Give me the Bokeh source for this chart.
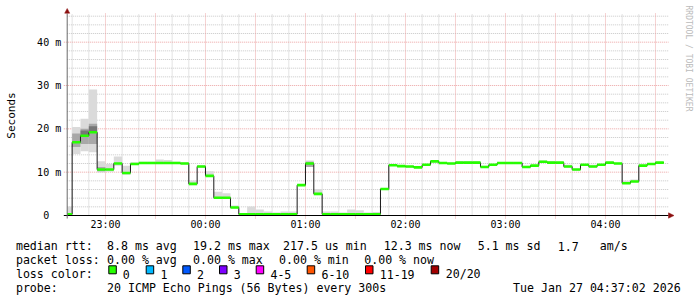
import math
import re
import pandas as pd
from bokeh.plotting import figure
from bokeh.models import Range1d, FixedTicker, DatetimeTickFormatter
from bokeh.core.properties import value
from bokeh.embed import file_html
from bokeh.resources import INLINE

# ---------------- data (milliseconds) ----------------
graph_start = "2026-01-26 22:37:02"
graph_end = "2026-01-27 04:37:02"
first_slot = "2026-01-26 22:40:00"
last_slot_end = "2026-01-27 04:35:00"

median_ms = [0.3, 16.9, 18.4, 19.2, 10.6, 10.6, 12.0, 9.8, 11.9, 12.1, 12.1, 12.1,
             12.1, 12.1, 12.0, 7.3, 11.3, 9.15, 4.1, 4.1, 1.85, 0.3, 0.3, 0.3,
             0.3, 0.3, 0.3, 0.3, 7.0, 12.0, 5.0, 0.3, 0.3, 0.3, 0.3, 0.3,
             0.3, 0.3, 6.1, 11.6, 11.4, 11.3, 11.1, 11.7, 12.5, 12.1, 12.0, 12.2,
             12.2, 12.2, 11.2, 11.7, 12.1, 12.1, 12.1, 11.2, 11.5, 12.4, 12.2, 12.2,
             11.3, 10.6, 11.7, 11.3, 11.7, 12.2, 12.0, 7.45, 7.85, 11.5, 11.9, 12.2]

smoke_lo_ms = [0.0, 14.2, 14.8, 14.6, 9.9, 10.1, 11.5, 9.4, 11.7, 11.9, 11.9, 11.9,
               11.9, 11.9, 11.8, 7.0, 11.0, 9.0, 3.9, 3.9, 1.6, 0.1, 0.1, 0.1,
               0.1, 0.1, 0.1, 0.1, 6.8, 11.2, 4.7, 0.1, 0.1, 0.1, 0.1, 0.1,
               0.1, 0.1, 5.9, 11.4, 11.2, 11.1, 10.9, 11.5, 12.3, 11.9, 11.8, 12.0,
               12.0, 12.0, 11.0, 11.5, 11.9, 11.9, 11.9, 11.0, 11.3, 12.2, 12.0, 12.0,
               11.1, 10.4, 11.5, 11.1, 11.5, 12.0, 11.8, 7.25, 7.65, 11.3, 11.7, 12.0]

smoke_hi_ms = [2.1, 20.4, 22.3, 29.1, 12.5, 11.9, 13.6, 11.5, 12.3, 12.4, 12.4, 12.9,
               12.8, 12.4, 12.3, 8.1, 11.6, 10.2, 5.5, 5.15, 2.3, 0.4, 2.1, 1.4,
               0.9, 0.7, 0.9, 0.9, 7.2, 12.7, 6.1, 0.9, 0.9, 0.7, 1.4, 1.2,
               0.7, 0.8, 6.3, 11.8, 11.6, 11.5, 11.3, 11.9, 12.7, 12.3, 12.2, 12.6,
               12.6, 12.6, 11.5, 11.9, 12.3, 12.3, 12.3, 11.5, 11.7, 12.7, 12.6, 12.4,
               11.7, 10.8, 11.9, 11.7, 11.9, 12.4, 12.2, 8.0, 8.3, 11.7, 12.1, 12.4]

core_slots = [1, 2, 3, 4, 29]
core_lo_ms = [15.8, 16.5, 16.5, 10.2, 11.2]
core_hi_ms = [18.9, 20.0, 21.2, 11.2, 12.4]
dark_slots = [2, 3]
dark_lo_ms = [18.6, 19.4]
dark_hi_ms = [19.6, 20.6]

x_tick_times = ["2026-01-26 23:00", "2026-01-27 00:00", "2026-01-27 01:00",
                "2026-01-27 02:00", "2026-01-27 03:00", "2026-01-27 04:00"]
y_tick_values = [0, 10, 20, 30, 40]
y_tick_labels = ["0\u00a0\u00a0", "10 m", "20 m", "30 m", "40 m"]
y_axis_title = "Seconds"
credit_text = "RRDTOOL / TOBI OETIKER"

legend_heads = ["median rtt:", "packet loss:", "loss color:", "probe:"]
legend_bodies = ["8.8 ms avg  19.2 ms max  217.5 us min  12.3 ms now  5.1 ms sd  1.7   am/s",
                 "0.00 % avg  0.00 % max  0.00 % min  0.00 % now",
                 "",
                 "20 ICMP Echo Pings (56 Bytes) every 300s"]
stamp_text = "Tue Jan 27 04:37:02 2026"
loss_labels = ["0", "1", "2", "3", "4-5", "6-10", "11-19", "20/20"]
loss_colors = ["#26ff00", "#00b8ff", "#0059ff", "#7e00ff", "#ff00ff", "#ff5500", "#ff0000", "#a10000"]

# ---------------- layout constants (pixels) ----------------
W, H = 697, 297
GRAPH_X0 = 66.7                # pixel of graph start (y axis)
ZERO_Y = 215.0                 # pixel of value 0 (x axis)
PX_PER_HOUR = 100.0
PX_PER_MS = 4.333
MS_PER_PX = 3.6e6 / PX_PER_HOUR
YU_PER_PX = 1.0 / PX_PER_MS
MONO = "DejaVu Sans Mono"
LEG_FONT = "11.6px"
# left pixel of each legend piece, per row (rrdtool places items with its own gaps)
PIECE_X = [[107.3, 193.3, 283.3, 384.0, 478.0, 558.0, 600.0],
           [107.3, 193.3, 279.3, 364.5],
           [],
           [107.3]]


def tms(s):
    return pd.Timestamp(s).value / 1e6


t0 = tms(graph_start)
t1 = tms(graph_end)


def px_x(px):
    return t0 + (px - GRAPH_X0) * MS_PER_PX


def px_y(py):
    return (ZERO_Y - py) * YU_PER_PX


starts = [t0] + [ts.value / 1e6 for ts in pd.date_range(first_slot, periods=len(median_ms) - 1, freq="5min")]
ends = starts[1:] + [tms(last_slot_end)]

p = figure(width=W, height=H, output_backend="svg", toolbar_location=None,
           x_axis_type="datetime",
           x_range=Range1d(px_x(0), px_x(W)),
           y_range=Range1d(px_y(H), px_y(0)),
           min_border=0)
p.outline_line_color = None
p.background_fill_color = "white"
p.border_fill_color = "white"
p.grid.visible = False

# ---------------- grid ----------------
grid_top = px_y(13)
grid_right = t1 + 1.3 * MS_PER_PX
tick_y = 3 * YU_PER_PX
tick_x = 3.4 * MS_PER_PX

minor_v = [ts.value / 1e6 for ts in pd.date_range(first_slot, "2026-01-27 04:30", freq="10min") if ts.minute % 30 != 0]
major_v = [ts.value / 1e6 for ts in pd.date_range("2026-01-26 23:00", "2026-01-27 04:30", freq="30min")]
minor_h = [v for v in range(2, 47, 2) if v % 10 != 0]
major_h = [v for v in y_tick_values if v != 0]

MINOR_C = "#c8c8c8"
MAJOR_C = "#eca4a4"
p.segment(x0=minor_v, x1=minor_v, y0=[0] * len(minor_v), y1=[grid_top] * len(minor_v),
          line_color=MINOR_C, line_width=1, line_dash="1 1")
p.segment(x0=[t0] * len(minor_h), x1=[grid_right] * len(minor_h), y0=minor_h, y1=minor_h,
          line_color=MINOR_C, line_width=1, line_dash="1 1")
p.segment(x0=major_v, x1=major_v, y0=[-tick_y] * len(major_v), y1=[grid_top] * len(major_v),
          line_color=MAJOR_C, line_width=1, line_dash="1 1")
p.segment(x0=[t0 - tick_x] * len(major_h), x1=[grid_right] * len(major_h), y0=major_h, y1=major_h,
          line_color=MAJOR_C, line_width=1, line_dash="1 1")

# ---------------- smoke ----------------
p.quad(left=starts, right=ends, bottom=smoke_lo_ms, top=smoke_hi_ms,
       fill_color="#dadada", line_color=None)
p.quad(left=[starts[i] for i in core_slots], right=[ends[i] for i in core_slots],
       bottom=core_lo_ms, top=core_hi_ms, fill_color="#a8a8a8", line_color=None)
p.quad(left=[starts[i] for i in dark_slots], right=[ends[i] for i in dark_slots],
       bottom=dark_lo_ms, top=dark_hi_ms, fill_color="#767676", line_color=None)

# ---------------- median ----------------
p.step(x=starts + [ends[-1]], y=median_ms + [median_ms[-1]], mode="after",
       line_color="#1a1a1a", line_width=1)
p.segment(x0=starts, x1=ends, y0=median_ms, y1=median_ms,
          line_color=loss_colors[0], line_width=2.6)

# ---------------- axes lines and arrows ----------------
p.segment(x0=[t0 - tick_x], x1=[grid_right], y0=[0], y1=[0], line_color="#000000", line_width=1)
p.segment(x0=[t0], x1=[t0], y0=[-tick_y], y1=[grid_top], line_color="#6a6a6a", line_width=1)
ARROW_C = "#8c1010"
p.patch(x=[t0 - 2.5 * MS_PER_PX, t0, t0 + 2.5 * MS_PER_PX],
        y=[px_y(12.7), px_y(8.0), px_y(12.7)],
        fill_color=ARROW_C, line_color=ARROW_C, line_width=0.5)
p.patch(x=[grid_right, grid_right + 5.5 * MS_PER_PX, grid_right],
        y=[2.7 * YU_PER_PX, 0, -2.7 * YU_PER_PX],
        fill_color=ARROW_C, line_color=ARROW_C, line_width=0.5)

# ---------------- axes (tick labels), placed at the graph's own axes ----------------
xa = p.xaxis[0]
xa.fixed_location = 0
xa.ticker = FixedTicker(ticks=[tms(t) for t in x_tick_times], minor_ticks=[])
fmt = "%H:%M"
xa.formatter = DatetimeTickFormatter(microseconds=fmt, milliseconds=fmt, seconds=fmt, minsec=fmt,
                                     minutes=fmt, hourmin=fmt, hours=fmt, days=fmt,
                                     months=fmt, years=fmt)
ya = p.yaxis[0]
ya.fixed_location = t0
ya.ticker = FixedTicker(ticks=y_tick_values, minor_ticks=[])
ya.major_label_overrides = {v: s for v, s in zip(y_tick_values, y_tick_labels)}
for ax in (xa, ya):
    ax.axis_line_color = None
    ax.major_tick_line_color = None
    ax.minor_tick_line_color = None
    ax.major_tick_out = 0
    ax.major_tick_in = 0
    ax.major_label_text_font = MONO
    ax.major_label_text_font_size = "10px"
    ax.major_label_text_color = "#000000"
xa.major_label_standoff = 3
ya.major_label_standoff = 6

# ---------------- side texts ----------------
p.text(x=[px_x(10.7)], y=[px_y(115)], text=[y_axis_title], angle=math.pi / 2,
       text_align="center", text_baseline="middle", text_font=value(MONO),
       text_font_size="11px", text_color="#000000")
p.text(x=[px_x(688)], y=[px_y(5)], text=[credit_text], angle=-math.pi / 2,
       text_align="left", text_baseline="middle", text_font=value(MONO),
       text_font_size="8px", text_color="#bbbbbb")

# ---------------- legend ----------------
ROW_BASE = [245.5, 259.5, 273.5, 287.5]
HEAD_X = 15.4
BEARING = 0.8
txt_style = dict(text_align="left", text_baseline="alphabetic", text_font=value(MONO),
                 text_font_size=LEG_FONT, text_color="#000000")

lx, ly, lt = [], [], []
for head, body, yb, xs in zip(legend_heads, legend_bodies, ROW_BASE, PIECE_X):
    lx.append(px_x(HEAD_X)); ly.append(px_y(yb)); lt.append(head)
    pieces = [m.group(0) for m in re.finditer(r"\S+(?: \S+)*", body)]
    for piece, sx in zip(pieces, xs):
        lx.append(px_x(sx - BEARING)); ly.append(px_y(yb)); lt.append(piece)
lx.append(px_x(512.6)); ly.append(px_y(ROW_BASE[3])); lt.append(stamp_text)
p.text(x=lx, y=ly, text=lt, **txt_style)

SQ_X = [108.3, 145.7, 182.3, 219.0, 255.7, 306.7, 365.0, 430.7]
LAB_X = [123.0, 160.7, 197.3, 234.0, 270.7, 321.7, 380.0, 446.0]
p.quad(left=[px_x(sx) for sx in SQ_X], right=[px_x(sx + 7.5) for sx in SQ_X],
       top=[px_y(ROW_BASE[2] - 8.2)] * len(SQ_X), bottom=[px_y(ROW_BASE[2] - 0.2)] * len(SQ_X),
       fill_color=loss_colors, line_color="#000000", line_width=1)
p.text(x=[px_x(lx_ - BEARING) for lx_ in LAB_X], y=[px_y(ROW_BASE[2])] * len(LAB_X),
       text=loss_labels, **txt_style)

open("out.html", "w").write(file_html(p, INLINE))
